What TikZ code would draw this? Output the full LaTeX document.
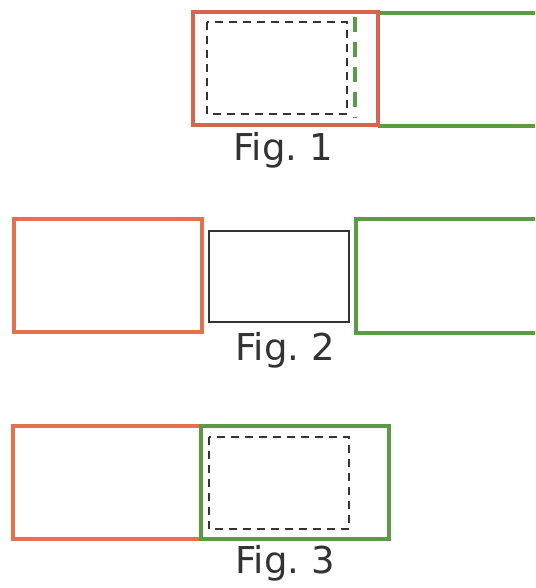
\documentclass[tikz,border=0pt]{standalone}
\usepackage{fontspec}
\setmainfont{DejaVu Sans}
\definecolor{redbox}{HTML}{E4704C}
\definecolor{redbox1}{HTML}{D8644F}
\definecolor{greenbox}{HTML}{5C9B45}
\definecolor{inkgray}{HTML}{333333}
\tikzset{
  redframe/.style={draw=redbox, line width=4.2pt},
  greenframe/.style={draw=greenbox, line width=4.2pt},
  plainframe/.style={draw=inkgray, line width=2pt},
  hiddenframe/.style={draw=inkgray, line width=2.2pt, dash pattern=on 8pt off 6pt},
  hiddengreen/.style={draw=greenbox, line width=4pt, dash pattern=on 15pt off 10pt},
  caption/.style={text=inkgray, font=\fontsize{37}{40}\selectfont, inner sep=0pt, anchor=center},
}
\begin{document}
\begin{tikzpicture}[x=1pt, y=-1pt]
  \fill[white] (0,0) rectangle (535,588);
  \clip (0,0) rectangle (535,588);

  % Fig. 1: green box partly hidden behind the red one
  \draw[greenframe] (378,13) -- (545,13);
  \draw[greenframe] (378,126) -- (545,126);
  \draw[hiddengreen] (355,17) -- (355,118);
  \draw[redframe, draw=redbox1] (193,12) rectangle (378,125);
  \draw[hiddenframe] (207,22) rectangle (347,114);
  \node[caption] (cap1) at (283,150) {Fig.\ 1};

  % Fig. 2: three separate boxes
  \draw[redframe] (14,219) rectangle (202,332);
  \draw[plainframe] (209,231) rectangle (349,322);
  \draw[greenframe] (356,219) -- (545,219);
  \draw[greenframe] (356,333) -- (545,333);
  \draw[greenframe] (356,216.9) -- (356,335.1);
  \node[caption] (cap2) at (285,350) {Fig.\ 2};

  % Fig. 3: hidden box inside the green one
  \draw[redframe] (13,426) -- (201,426) -- (201,539) -- (13,539) -- cycle;
  \draw[greenframe] (201,426) rectangle (389,539);
  \draw[hiddenframe] (209,437) rectangle (349,529);
  \node[caption] (cap3) at (285,563) {Fig.\ 3};
\end{tikzpicture}
\end{document}
